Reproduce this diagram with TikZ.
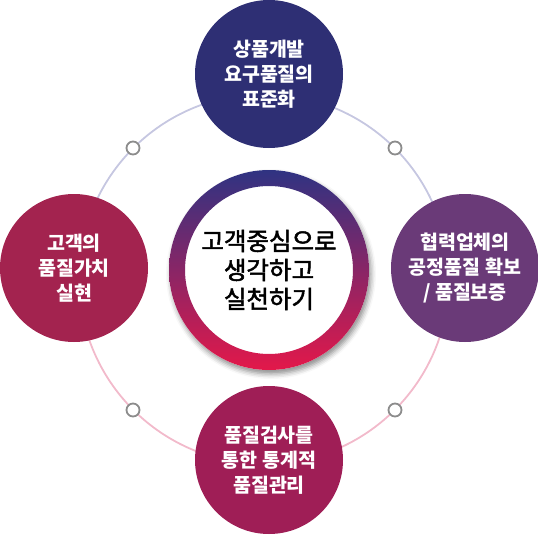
\documentclass[tikz,border=0pt]{standalone}
\usepackage{fontspec}
\setmainfont{Noto Sans CJK KR}
\usepackage{tikz}
\usetikzlibrary{positioning, shadows.blur}

\definecolor{navy}{HTML}{2E2F74}
\definecolor{plum}{HTML}{6A3A78}
\definecolor{crimson}{HTML}{A3234F}
\definecolor{berry}{HTML}{9F1E56}
\definecolor{ringtop}{HTML}{2F3382}
\definecolor{ringbot}{HTML}{E3184A}
\definecolor{lavline}{HTML}{C6C7E1}
\definecolor{pinkline}{HTML}{F2BACB}
\definecolor{knotgray}{HTML}{8C8C8C}

\tikzset{
  topic/.style={circle,minimum size=148pt,inner sep=0pt,text=white,align=center,
    font=\bfseries\fontsize{19.5}{25}\selectfont},
  knot/.style={circle,draw=knotgray,line width=1.8pt,fill=white,minimum size=13pt,inner sep=0pt},
  ringline/.style={line width=1.8pt}
}

\begin{document}
\begin{tikzpicture}[x=1pt,y=-1pt]
      \useasboundingbox (0,0) rectangle (538,535);

      % outer ring behind the topics
      \coordinate (hub) at (264,279);
      \draw[ringline,lavline] (hub) ++(180:185) arc[start angle=180,end angle=360,radius=185];
      \draw[ringline,pinkline] (hub) ++(0:185) arc[start angle=0,end angle=180,radius=185];

      \node[knot] (k1) at (133,148) {};
      \node[knot] (k2) at (395,148) {};
      \node[knot] (k3) at (133,410) {};
      \node[knot] (k4) at (395,410) {};

      % topics
      \node[topic,fill=navy]    (design)  at (269,74)  {상품개발\\요구품질의\\표준화};
      \node[topic,fill=plum]    (supply)  at (465,268) {협력업체의\\공정품질 확보\\/ 품질보증};
      \node[topic,fill=crimson] (value)   at (74,268)  {고객의\\품질가치\\실현};
      \node[topic,fill=berry]   (inspect) at (269,460) {품질검사를\\통한 통계적\\품질관리};

      % core
      \coordinate (core) at (269,270);
      \fill[white,blur shadow={shadow xshift=2pt,shadow yshift=-4pt,shadow blur radius=5pt,shadow opacity=45}] (core) circle[radius=100];
      \shade[even odd rule,top color=ringtop,bottom color=ringbot] (core) circle[radius=100] (core) circle[radius=84];
      \node[align=center,font=\addfontfeatures{FakeBold=2}\fontsize{24.5}{29}\selectfont] (motto) at (core) {고객중심으로\\생각하고\\실천하기};

    \end{tikzpicture}
\end{document}
